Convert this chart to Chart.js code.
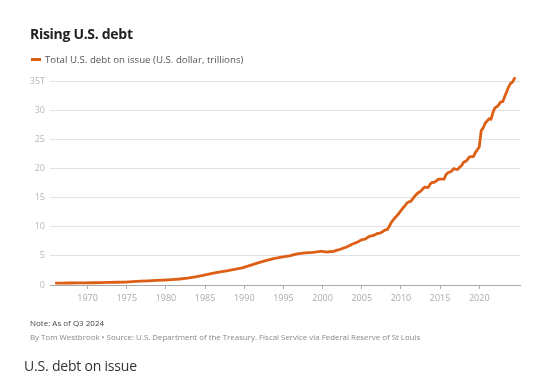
<!DOCTYPE html>
<html>
<head>
<meta charset="utf-8">
<script src="https://cdn.jsdelivr.net/npm/chart.js@4/dist/chart.umd.min.js"></script>
<style>
  html, body { margin:0; padding:0; background:#fff; }
  body { width:554px; height:379px; position:relative; overflow:hidden; font-family:"Open Sans", "Noto Sans", sans-serif; }
  #c { position:absolute; left:0; top:0; }
  .t { position:absolute; white-space:nowrap; }
  #title { left:30px; top:24px; font-size:14px; font-weight:700; color:#222; letter-spacing:-0.3px; }
  #legend { left:31px; top:53px; font-size:9.7px; color:#555; }
  #legend span.sw { display:inline-block; width:10px; height:3px; background:#dd5f16; vertical-align:middle; margin-right:4px; position:relative; top:-1px; }
  #note { left:30px; top:317px; font-size:8px; color:#444; }
  #src { left:30px; top:332px; font-size:7.9px; color:#888; }
  #sub { left:24px; top:356px; font-size:14px; color:#333; letter-spacing:-0.2px; }
</style>
</head>
<body>
<canvas id="c" width="554" height="379"></canvas>
<div class="t" id="title">Rising U.S. debt</div>
<div class="t" id="legend"><span class="sw"></span>Total U.S. debt on issue (U.S. dollar, trillions)</div>
<div class="t" id="note">Note: As of Q3 2024</div>
<div class="t" id="src">By Tom Westbrook • Source: U.S. Department of the Treasury. Fiscal Service via Federal Reserve of St Louis</div>
<div class="t" id="sub">U.S. debt on issue</div>
<script>
// Dates as fractional years (quarter start), values in trillions of U.S. dollars
const dates = [
  1966.0, 1966.75, 1967.75, 1968.75, 1969.75, 1970.75, 1971.75, 1972.75, 1973.75, 1974.75,
  1975.75, 1976.75, 1977.75, 1978.75, 1979.75, 1980.75, 1981.75, 1982.75, 1983.75, 1984.75,
  1985.75, 1986.75, 1987.75, 1988.75, 1989.75, 1990.75, 1991.75, 1992.75, 1993.75, 1994.75,
  1995.75, 1996.75, 1997.75, 1998.75, 1999.75,
  2000.0, 2000.25, 2000.5, 2000.75, 2001.0, 2001.25, 2001.5, 2001.75,
  2002.0, 2002.25, 2002.5, 2002.75, 2003.0, 2003.25, 2003.5, 2003.75,
  2004.0, 2004.25, 2004.5, 2004.75, 2005.0, 2005.25, 2005.5, 2005.75,
  2006.0, 2006.25, 2006.5, 2006.75, 2007.0, 2007.25, 2007.5, 2007.75,
  2008.0, 2008.25, 2008.5, 2008.75, 2009.0, 2009.25, 2009.5, 2009.75,
  2010.0, 2010.25, 2010.5, 2010.75, 2011.0, 2011.25, 2011.5, 2011.75,
  2012.0, 2012.25, 2012.5, 2012.75, 2013.0, 2013.25, 2013.5, 2013.75,
  2014.0, 2014.25, 2014.5, 2014.75, 2015.0, 2015.25, 2015.5, 2015.75,
  2016.0, 2016.25, 2016.5, 2016.75, 2017.0, 2017.25, 2017.5, 2017.75,
  2018.0, 2018.25, 2018.5, 2018.75, 2019.0, 2019.25, 2019.5, 2019.75,
  2020.0, 2020.25, 2020.5, 2020.75, 2021.0, 2021.25, 2021.5, 2021.75,
  2022.0, 2022.25, 2022.5, 2022.75, 2023.0, 2023.25, 2023.5, 2023.75,
  2024.0, 2024.25, 2024.5
];
const debt = [
  0.320, 0.329, 0.344, 0.358, 0.368, 0.389, 0.424, 0.449, 0.469, 0.492,
  0.576, 0.653, 0.719, 0.789, 0.845, 0.930, 1.028, 1.197, 1.410, 1.663,
  1.945, 2.214, 2.431, 2.684, 2.953, 3.365, 3.802, 4.177, 4.536, 4.801,
  4.989, 5.323, 5.502, 5.614, 5.776,
  5.77, 5.69, 5.67, 5.66, 5.77, 5.73, 5.81, 5.94,
  6.01, 6.13, 6.23, 6.41, 6.46, 6.67, 6.78, 7.00,
  7.13, 7.27, 7.38, 7.60, 7.78, 7.84, 7.93, 8.17,
  8.37, 8.42, 8.51, 8.68, 8.85, 8.87, 9.01, 9.23,
  9.44, 9.49, 10.02, 10.70, 11.13, 11.55, 11.91, 12.31,
  12.77, 13.20, 13.56, 14.03, 14.27, 14.34, 14.79, 15.22,
  15.58, 15.86, 16.07, 16.43, 16.77, 16.74, 16.74, 17.35,
  17.60, 17.63, 17.82, 18.14, 18.15, 18.15, 18.15, 18.92,
  19.26, 19.38, 19.57, 19.98, 19.85, 19.84, 20.24, 20.49,
  21.09, 21.20, 21.52, 21.97, 22.03, 22.02, 22.72, 23.20,
  23.69, 26.48, 26.95, 27.75, 28.13, 28.53, 28.43, 29.62,
  30.40, 30.57, 30.93, 31.42, 31.46, 32.33, 33.17, 34.00,
  34.59, 34.83, 35.46
];
const xTickYears = [1970, 1975, 1980, 1985, 1990, 1995, 2000, 2005, 2010, 2015, 2020];
const yTickValues = [0, 5, 10, 15, 20, 25, 30, 35];
const yTickLabels = ['0', '5', '10', '15', '20', '25', '30', '35T'];

const points = dates.map((d, i) => ({ x: d, y: debt[i] }));

new Chart(document.getElementById('c'), {
  type: 'line',
  data: {
    datasets: [{
      label: 'Total U.S. debt on issue (U.S. dollar, trillions)',
      data: points,
      borderColor: '#dd5f16',
      borderWidth: 2.8,
      pointRadius: 0,
      tension: 0,
      fill: false,
      clip: false,
      borderJoinStyle: 'round',
      borderCapStyle: 'round'
    }]
  },
  options: {
    responsive: false,
    animation: false,
    layout: { padding: { left: 0, right: 34, top: 81, bottom: 0 } },
    plugins: { legend: { display: false }, tooltip: { enabled: false } },
    scales: {
      x: {
        type: 'linear',
        min: 1965.2,
        max: 2025.2,
        afterBuildTicks: (ax) => { ax.ticks = xTickYears.map(v => ({ value: v })); },
        afterFit: (s) => { s.height = 94; },
        grid: { drawOnChartArea: false, drawTicks: true, tickLength: 4, color: '#b0b0b0' },
        border: { display: true, color: '#a8a8a8', width: 1 },
        ticks: {
          autoSkip: false, maxRotation: 0, padding: 4,
          color: '#aaaaaa',
          font: { family: 'Open Sans', size: 9 },
          callback: (v) => String(v)
        }
      },
      y: {
        min: 0,
        max: 35,
        afterBuildTicks: (ax) => { ax.ticks = yTickValues.map(v => ({ value: v })); },
        afterFit: (s) => { s.width = 50; },
        grid: { drawTicks: false, color: '#e2e2e2', lineWidth: 1 },
        border: { display: false },
        ticks: {
          padding: 5,
          color: '#b8b8b8',
          font: { family: 'Open Sans', size: 9 },
          callback: (v) => yTickLabels[yTickValues.indexOf(v)]
        }
      }
    }
  }
});
</script>
</body>
</html>
